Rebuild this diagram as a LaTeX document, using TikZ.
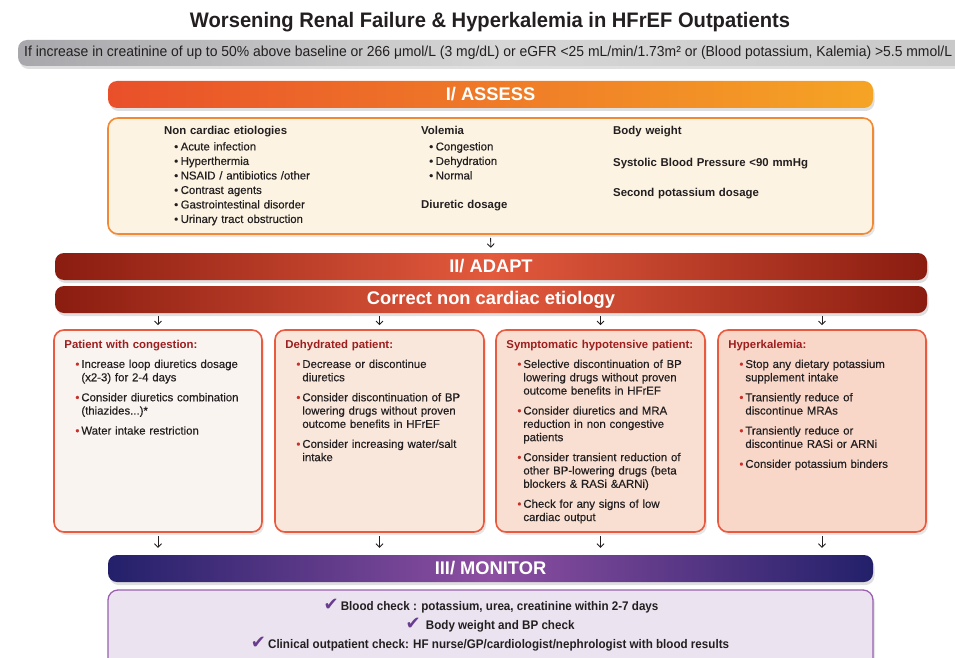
\documentclass[tikz,border=0pt]{standalone}
\usepackage{fontspec}
\setmainfont{Liberation Sans}
\newfontfamily\titlefont[FakeStretch=0.96]{Liberation Sans}
\newfontfamily\critfont[FakeStretch=0.96]{Liberation Sans}
\newfontfamily\monfont[FakeStretch=0.93]{Liberation Sans}
\newfontfamily\bodyfont[FakeBold=0.3]{Liberation Sans}
\newfontfamily\headfont{Liberation Sans Bold}
\newfontfamily\symfont{DejaVu Sans}
\usetikzlibrary{arrows.meta,shadows}
\definecolor{txt}{HTML}{231F20}
\definecolor{grayL}{HTML}{A8A8AC}
\definecolor{grayM}{HTML}{D6D6D6}
\definecolor{grayR}{HTML}{C8C8C8}
\definecolor{orL}{HTML}{E9502A}
\definecolor{orR}{HTML}{F5A425}
\definecolor{creamfill}{HTML}{FCF3E2}
\definecolor{creamborder}{HTML}{F28A35}
\definecolor{redD}{HTML}{8A1C10}
\definecolor{redM}{HTML}{E35A3D}
\definecolor{boxborder}{HTML}{EA5A3E}
\definecolor{fillA}{HTML}{F9F4F0}
\definecolor{fillB}{HTML}{F9E7DC}
\definecolor{fillC}{HTML}{F9DFD2}
\definecolor{fillD}{HTML}{F8D6C8}
\definecolor{headred}{HTML}{9C1E1E}
\definecolor{bulred}{HTML}{C8302A}
\definecolor{purD}{HTML}{23206A}
\definecolor{purM}{HTML}{8E4FA2}
\definecolor{purfill}{HTML}{EBE4F0}
\definecolor{purborder}{HTML}{9A60B0}
\definecolor{checkcol}{HTML}{6A3C8E}
\newcommand{\bitem}[1]{\par\noindent\hspace*{11pt}\makebox[6pt][l]{\textcolor{bulred}{•}}\parbox[t]{180pt}{\raggedright\strut #1\strut}\par\vspace{5.7pt}}
\newcommand{\aitem}[1]{\\\hspace*{10pt}\makebox[6.5pt][l]{•}#1}
\newcommand{\chk}{{\symfont\fontsize{18}{18}\selectfont\textcolor{checkcol}{✔}}\,}
\begin{document}
\begin{tikzpicture}[x=1pt,y=-1pt,
  bar/.style={rounded corners=9pt, inner sep=0pt, draw=none,
     drop shadow={shadow xshift=1.5pt,shadow yshift=-3pt,opacity=0.25}},
  bartext/.style={text=white, font=\headfont\fontsize{18.3}{21}\selectfont},
  panel/.style={rounded corners=10pt, line width=1.6pt, inner sep=0pt,
     drop shadow={shadow xshift=2pt,shadow yshift=-3pt,opacity=0.2}},
  body/.style={anchor=north west, inner sep=0pt, align=left, text=txt,
     font=\bodyfont\fontsize{11.4}{13.3}\selectfont},
  arr/.style={draw=txt, line width=0.9pt, -{Straight Barb[length=3.5pt,width=7pt]}},
]
\useasboundingbox (0,0) rectangle (955,658);
\clip (0,0) rectangle (955,658);
% title
\node[font=\titlefont\bfseries\fontsize{21}{24}\selectfont, text=txt] (title) at (490,22)
  {Worsening Renal Failure \& Hyperkalemia in HFrEF Outpatients};
% criteria bar
\node[bar, left color=grayL, right color=grayR, middle color=grayM,
  minimum width=960pt, minimum height=26pt] (crit) at (498,53) {};
\node[anchor=west, inner sep=0pt, text=txt, font=\critfont\fontsize{14.5}{16}\selectfont] (crittext) at (24,53)
  {If increase in creatinine of up to 50\% above baseline or 266 μmol/L (3 mg/dL)  or eGFR <25 mL/min/1.73m² or (Blood potassium, Kalemia) >5.5 mmol/L};
% ASSESS
\node[bar, left color=orL, right color=orR, minimum width=765pt, minimum height=27pt] (assess) at (490.5,94.5) {};
\node[bartext] (assesst) at (assess.center) {I/ ASSESS};
\node[panel, draw=creamborder, fill=creamfill, minimum width=765pt, minimum height=116pt] (assessbox) at (490.5,176) {};
\node[body, text width=240pt, font=\bodyfont\fontsize{11.4}{14.5}\selectfont] (acol1) at (164,126)
  {{\headfont Non cardiac etiologies}\\[1.5pt]\hspace*{10pt}\makebox[6.5pt][l]{•}Acute infection\aitem{Hyperthermia}\aitem{NSAID / antibiotics /other}\aitem{Contrast agents}\aitem{Gastrointestinal disorder}\aitem{Urinary tract obstruction}};
\node[body, text width=180pt, font=\bodyfont\fontsize{11.4}{14.5}\selectfont] (acol2) at (421,126)
  {{\headfont Volemia}\\[1.5pt]\hspace*{8pt}\makebox[6.5pt][l]{•}Congestion\\\hspace*{8pt}\makebox[6.5pt][l]{•}Dehydration\\\hspace*{8pt}\makebox[6.5pt][l]{•}Normal\\[14.5pt]{\headfont Diuretic dosage}};
\node[body, text width=250pt, font=\headfont\fontsize{11.4}{14.5}\selectfont] (acol3) at (613,126)
  {Body weight\\[17.5pt]Systolic Blood Pressure <90 mmHg\\[15.5pt]Second potassium dosage};
% ADAPT
\node[bar, left color=redD, right color=redD, middle color=redM, minimum width=872pt, minimum height=27pt] (adapt) at (491,266.5) {};
\node[bartext] (adaptt) at (adapt.center) {II/ ADAPT};
\node[bar, left color=redD, right color=redD, middle color=redM, minimum width=872pt, minimum height=27pt] (correct) at (491,299.5) {};
\node[bartext] (correctt) at (correct.center) {Correct non cardiac etiology};
\draw[arr, shorten <=3pt, shorten >=5pt] (assessbox.south) -- (adapt.north);
% four boxes
\node[panel, draw=boxborder, fill=fillA, minimum width=208pt, minimum height=202pt] (box1) at (158,431) {};
\node[panel, draw=boxborder, fill=fillB, minimum width=209pt, minimum height=202pt] (box2) at (379.5,431) {};
\node[panel, draw=boxborder, fill=fillC, minimum width=209pt, minimum height=202pt] (box3) at (600.5,431) {};
\node[panel, draw=boxborder, fill=fillD, minimum width=208pt, minimum height=202pt] (box4) at (822,431) {};
\foreach \b in {box1,box2,box3,box4}{
  \draw[arr, shorten <=3pt, shorten >=4pt] (\b.north |- correct.south) -- (\b.north);
}
\node[body, text width=200pt] (t1) at ([xshift=11pt,yshift=-11pt]box1.north west)
  {{\headfont\color{headred}Patient with congestion:}\par\vspace{6pt}
   \bitem{Increase loop diuretics dosage\\(x2-3) for 2-4 days}
   \bitem{Consider diuretics combination\\(thiazides...)*}
   \bitem{Water intake restriction}};
\node[body, text width=200pt] (t2) at ([xshift=11pt,yshift=-11pt]box2.north west)
  {{\headfont\color{headred}Dehydrated patient:}\par\vspace{6pt}
   \bitem{Decrease or discontinue\\diuretics}
   \bitem{Consider discontinuation of BP\\lowering drugs without proven\\outcome benefits in HFrEF}
   \bitem{Consider increasing water/salt\\intake}};
\node[body, text width=200pt] (t3) at ([xshift=11pt,yshift=-11pt]box3.north west)
  {{\headfont\color{headred}Symptomatic hypotensive patient:}\par\vspace{6pt}
   \bitem{Selective discontinuation of BP\\lowering drugs without proven\\outcome benefits in HFrEF}
   \bitem{Consider diuretics and MRA\\reduction in non congestive\\patients}
   \bitem{Consider transient reduction of\\other BP-lowering drugs (beta\\blockers \& RASi \&ARNi)}
   \bitem{Check for any signs of low\\cardiac output}};
\node[body, text width=200pt] (t4) at ([xshift=11pt,yshift=-11pt]box4.north west)
  {{\headfont\color{headred}Hyperkalemia:}\par\vspace{6pt}
   \bitem{Stop any dietary potassium\\supplement intake}
   \bitem{Transiently reduce of\\discontinue MRAs}
   \bitem{Transiently reduce or\\discontinue RASi or ARNi}
   \bitem{Consider potassium binders}};
% MONITOR
\node[bar, left color=purD, right color=purD, middle color=purM, minimum width=765pt, minimum height=27pt] (monitor) at (490.5,568.5) {};
\node[bartext] (monitort) at (monitor.center) {III/ MONITOR};
\foreach \b in {box1,box2,box3,box4}{
  \draw[arr, shorten <=3pt, shorten >=7pt] (\b.south) -- (\b.south |- monitor.north);
}
\node[panel, draw=purborder, fill=purfill, line width=1.3pt, minimum width=765pt, minimum height=90pt] (monbox) at (490.5,635) {};
\node[inner sep=0pt, text=txt, font=\monfont\bfseries\fontsize{12.5}{14}\selectfont] (m1) at (491,606)
  {\chk Blood check : potassium, urea, creatinine within 2-7 days};
\node[inner sep=0pt, text=txt, font=\monfont\bfseries\fontsize{12.5}{14}\selectfont] (m2) at (490,625)
  {\chk\ Body weight and BP check};
\node[inner sep=0pt, text=txt, font=\monfont\bfseries\fontsize{12.5}{14}\selectfont] (m3) at (490,644)
  {\chk Clinical outpatient check: HF nurse/GP/cardiologist/nephrologist with blood results};
\end{tikzpicture}
\end{document}
